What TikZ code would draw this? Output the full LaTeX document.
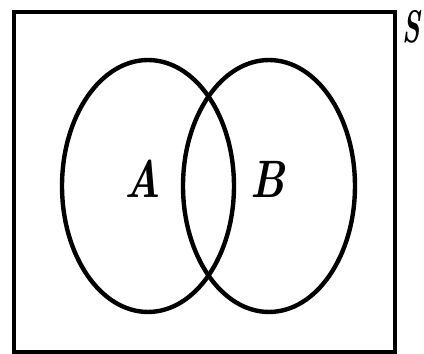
\documentclass[tikz,border=0pt]{standalone}
\usepackage{tikz}
\usetikzlibrary{positioning,shapes.geometric}
\tikzset{
  framebox/.style={draw=black, line width=2.6pt},
  setring/.style={draw=black, line width=2.5pt, ellipse, minimum width=3.44cm, minimum height=5.04cm, inner sep=0pt},
  setlabel/.style={font=\fontsize{30}{32}\selectfont\bfseries\itshape, inner sep=0pt, xscale=0.8},
  unilabel/.style={font=\fontsize{26}{28}\selectfont\bfseries\itshape, inner sep=0pt, xscale=0.6}}

\begin{document}
\begin{tikzpicture}[x=0.02cm, y=-0.02cm]
    \useasboundingbox (0,0) rectangle (424,354);
    \draw[framebox] (14,12) rectangle (395,352);
    \node[setring] (ringA) at (148,186) {};
    \node[setring] (ringB) at (269,186) {};
    \node[setlabel] (labA) at (143,179) {A};
    \node[setlabel] (labB) at (268,179) {B};
    \node[unilabel, anchor=north] (labS) at (411,10) {S};
  \end{tikzpicture}
\end{document}
